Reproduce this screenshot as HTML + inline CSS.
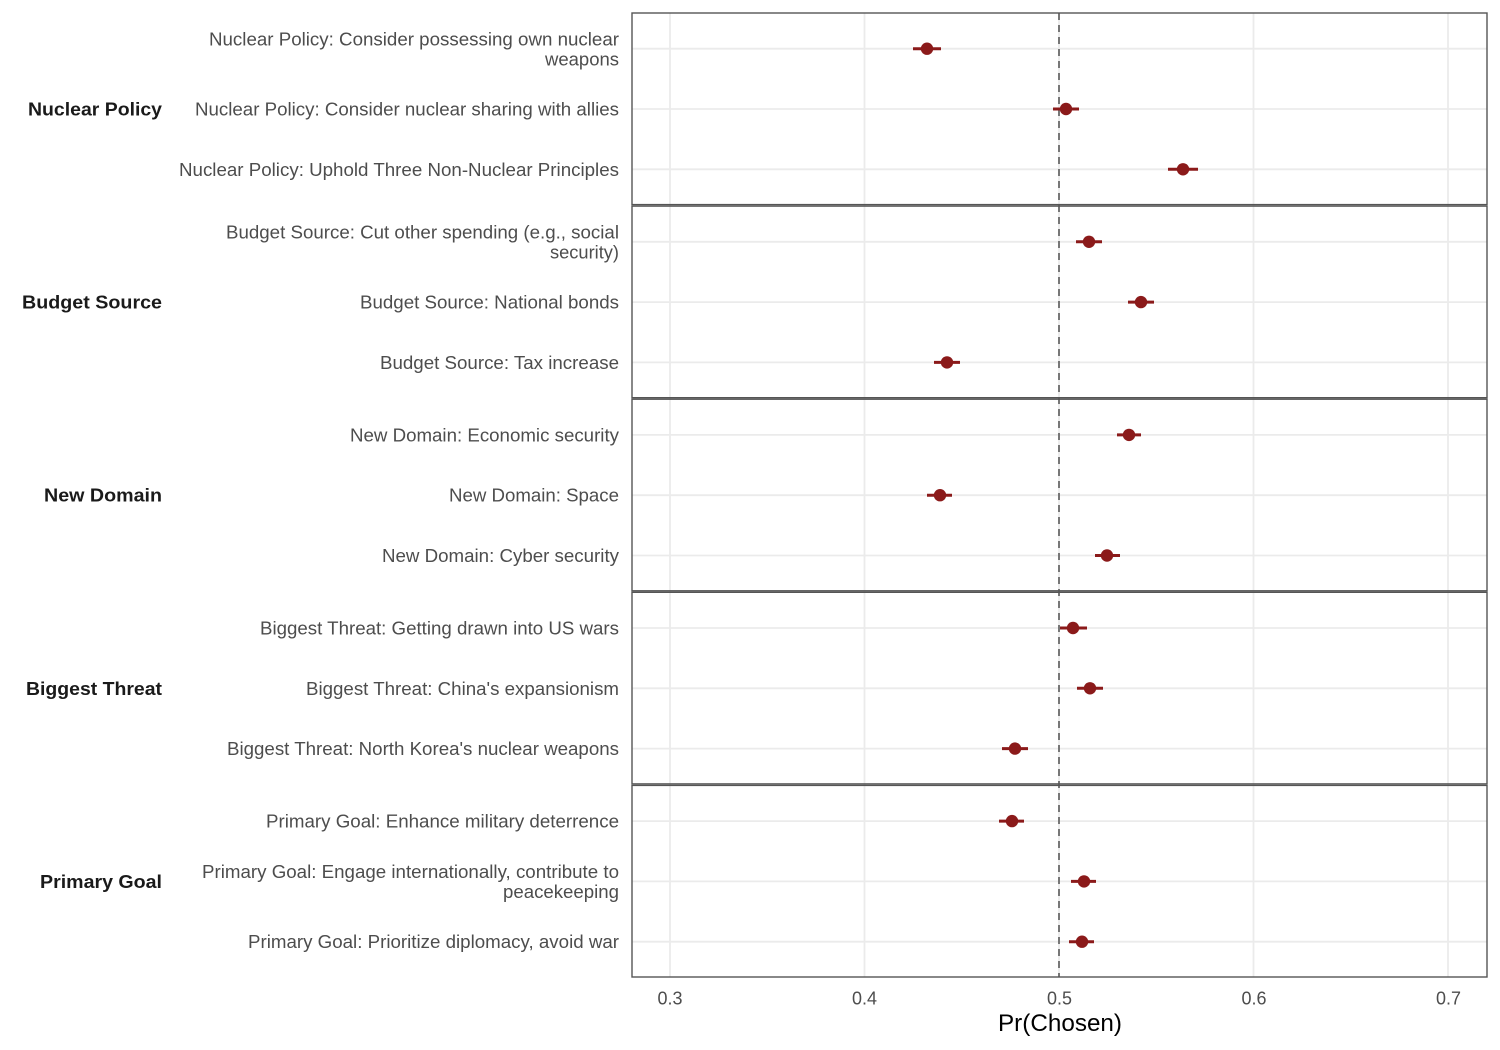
<!DOCTYPE html>
<html>
<head>
<meta charset="utf-8">
<style>
html,body{margin:0;padding:0;background:#fff;}
svg{display:block;}
text{font-family:"Liberation Sans",Arial,sans-serif;}
.lab{font-size:18px;fill:#4d4d4d;}
.grp{font-size:18px;font-weight:bold;fill:#1a1a1a;}
.tick{font-size:18px;fill:#4d4d4d;}
</style>
</head>
<body>
<svg width="1500" height="1050" viewBox="0 0 1500 1050" xmlns="http://www.w3.org/2000/svg">
<rect x="0" y="0" width="1500" height="1050" fill="#fff"/>
<g id="grid" stroke="#ebebeb" stroke-width="1.8">
  <line x1="670" y1="12.5" x2="670" y2="977" />
  <line x1="864.5" y1="12.5" x2="864.5" y2="977" />
  <line x1="1059" y1="12.5" x2="1059" y2="977" />
  <line x1="1253.5" y1="12.5" x2="1253.5" y2="977" />
  <line x1="1448" y1="12.5" x2="1448" y2="977" />
  <line x1="632" x2="1487" y1="48.7" y2="48.7"/>
  <line x1="632" x2="1487" y1="109" y2="109"/>
  <line x1="632" x2="1487" y1="169.3" y2="169.3"/>
  <line x1="632" x2="1487" y1="241.8" y2="241.8"/>
  <line x1="632" x2="1487" y1="302.1" y2="302.1"/>
  <line x1="632" x2="1487" y1="362.4" y2="362.4"/>
  <line x1="632" x2="1487" y1="434.9" y2="434.9"/>
  <line x1="632" x2="1487" y1="495.2" y2="495.2"/>
  <line x1="632" x2="1487" y1="555.5" y2="555.5"/>
  <line x1="632" x2="1487" y1="628" y2="628"/>
  <line x1="632" x2="1487" y1="688.3" y2="688.3"/>
  <line x1="632" x2="1487" y1="748.6" y2="748.6"/>
  <line x1="632" x2="1487" y1="821.1" y2="821.1"/>
  <line x1="632" x2="1487" y1="881.4" y2="881.4"/>
  <line x1="632" x2="1487" y1="941.7" y2="941.7"/>
</g>
<line x1="1059" y1="13" x2="1059" y2="977" stroke="#777" stroke-width="2" stroke-dasharray="7 5"/>
<g stroke="#8B1A1A" stroke-width="3">
  <line x1="913" x2="941" y1="48.7" y2="48.7"/>
  <line x1="1053" x2="1079" y1="109" y2="109"/>
  <line x1="1168" x2="1198" y1="169.3" y2="169.3"/>
  <line x1="1076" x2="1102" y1="241.8" y2="241.8"/>
  <line x1="1128" x2="1154" y1="302.1" y2="302.1"/>
  <line x1="934" x2="960" y1="362.4" y2="362.4"/>
  <line x1="1117" x2="1141" y1="434.9" y2="434.9"/>
  <line x1="927" x2="952" y1="495.2" y2="495.2"/>
  <line x1="1095" x2="1120" y1="555.5" y2="555.5"/>
  <line x1="1060" x2="1087" y1="628" y2="628"/>
  <line x1="1077" x2="1103" y1="688.3" y2="688.3"/>
  <line x1="1002" x2="1028" y1="748.6" y2="748.6"/>
  <line x1="999" x2="1024" y1="821.1" y2="821.1"/>
  <line x1="1071" x2="1096" y1="881.4" y2="881.4"/>
  <line x1="1069" x2="1094" y1="941.7" y2="941.7"/>
</g>
<g fill="#8B1A1A">
  <circle cx="927" cy="48.7" r="6.2"/>
  <circle cx="1066" cy="109" r="6.2"/>
  <circle cx="1183" cy="169.3" r="6.2"/>
  <circle cx="1089" cy="241.8" r="6.2"/>
  <circle cx="1141" cy="302.1" r="6.2"/>
  <circle cx="947" cy="362.4" r="6.2"/>
  <circle cx="1129" cy="434.9" r="6.2"/>
  <circle cx="940" cy="495.2" r="6.2"/>
  <circle cx="1107" cy="555.5" r="6.2"/>
  <circle cx="1073" cy="628" r="6.2"/>
  <circle cx="1090" cy="688.3" r="6.2"/>
  <circle cx="1015" cy="748.6" r="6.2"/>
  <circle cx="1012" cy="821.1" r="6.2"/>
  <circle cx="1084" cy="881.4" r="6.2"/>
  <circle cx="1082" cy="941.7" r="6.2"/>
</g>
<g fill="none" stroke="#555" stroke-width="1.4">
  <rect x="632" y="13" width="855" height="191.6"/>
  <rect x="632" y="206.1" width="855" height="191.6"/>
  <rect x="632" y="399.2" width="855" height="191.6"/>
  <rect x="632" y="592.3" width="855" height="191.6"/>
  <rect x="632" y="785.4" width="855" height="191.6"/>
</g>
<g class="lab" text-anchor="end">
  <text x="619" y="45.5" textLength="410" lengthAdjust="spacingAndGlyphs">Nuclear Policy: Consider possessing own nuclear</text>
  <text x="619" y="65.5" textLength="74" lengthAdjust="spacingAndGlyphs">weapons</text>
  <text x="619" y="115.5" textLength="424" lengthAdjust="spacingAndGlyphs">Nuclear Policy: Consider nuclear sharing with allies</text>
  <text x="619" y="175.8" textLength="440" lengthAdjust="spacingAndGlyphs">Nuclear Policy: Uphold Three Non-Nuclear Principles</text>
  <text x="619" y="238.3" textLength="393" lengthAdjust="spacingAndGlyphs">Budget Source: Cut other spending (e.g., social</text>
  <text x="619" y="258.3" textLength="69" lengthAdjust="spacingAndGlyphs">security)</text>
  <text x="619" y="308.6" textLength="259" lengthAdjust="spacingAndGlyphs">Budget Source: National bonds</text>
  <text x="619" y="368.9" textLength="239" lengthAdjust="spacingAndGlyphs">Budget Source: Tax increase</text>
  <text x="619" y="441.4" textLength="269" lengthAdjust="spacingAndGlyphs">New Domain: Economic security</text>
  <text x="619" y="501.7" textLength="170" lengthAdjust="spacingAndGlyphs">New Domain: Space</text>
  <text x="619" y="562" textLength="237" lengthAdjust="spacingAndGlyphs">New Domain: Cyber security</text>
  <text x="619" y="634.5" textLength="359" lengthAdjust="spacingAndGlyphs">Biggest Threat: Getting drawn into US wars</text>
  <text x="619" y="694.8" textLength="313" lengthAdjust="spacingAndGlyphs">Biggest Threat: China's expansionism</text>
  <text x="619" y="755.1" textLength="392" lengthAdjust="spacingAndGlyphs">Biggest Threat: North Korea's nuclear weapons</text>
  <text x="619" y="827.6" textLength="353" lengthAdjust="spacingAndGlyphs">Primary Goal: Enhance military deterrence</text>
  <text x="619" y="877.9" textLength="417" lengthAdjust="spacingAndGlyphs">Primary Goal: Engage internationally, contribute to</text>
  <text x="619" y="897.9" textLength="116" lengthAdjust="spacingAndGlyphs">peacekeeping</text>
  <text x="619" y="948.2" textLength="371" lengthAdjust="spacingAndGlyphs">Primary Goal: Prioritize diplomacy, avoid war</text>
</g>
<g class="grp" text-anchor="end">
  <text x="162" y="115.5" textLength="134" lengthAdjust="spacingAndGlyphs">Nuclear Policy</text>
  <text x="162" y="308.6" textLength="140" lengthAdjust="spacingAndGlyphs">Budget Source</text>
  <text x="162" y="501.7" textLength="118" lengthAdjust="spacingAndGlyphs">New Domain</text>
  <text x="162" y="694.8" textLength="136" lengthAdjust="spacingAndGlyphs">Biggest Threat</text>
  <text x="162" y="888" textLength="122" lengthAdjust="spacingAndGlyphs">Primary Goal</text>
</g>
<g class="tick" text-anchor="middle">
  <text x="670" y="1004.5" textLength="25" lengthAdjust="spacingAndGlyphs">0.3</text>
  <text x="864.5" y="1004.5" textLength="25" lengthAdjust="spacingAndGlyphs">0.4</text>
  <text x="1059.5" y="1004.5" textLength="25" lengthAdjust="spacingAndGlyphs">0.5</text>
  <text x="1254" y="1004.5" textLength="25" lengthAdjust="spacingAndGlyphs">0.6</text>
  <text x="1448.5" y="1004.5" textLength="25" lengthAdjust="spacingAndGlyphs">0.7</text>
</g>
<text x="1060" y="1031" text-anchor="middle" font-size="24" fill="#000" textLength="124" lengthAdjust="spacingAndGlyphs">Pr(Chosen)</text>
</svg>
</body>
</html>
